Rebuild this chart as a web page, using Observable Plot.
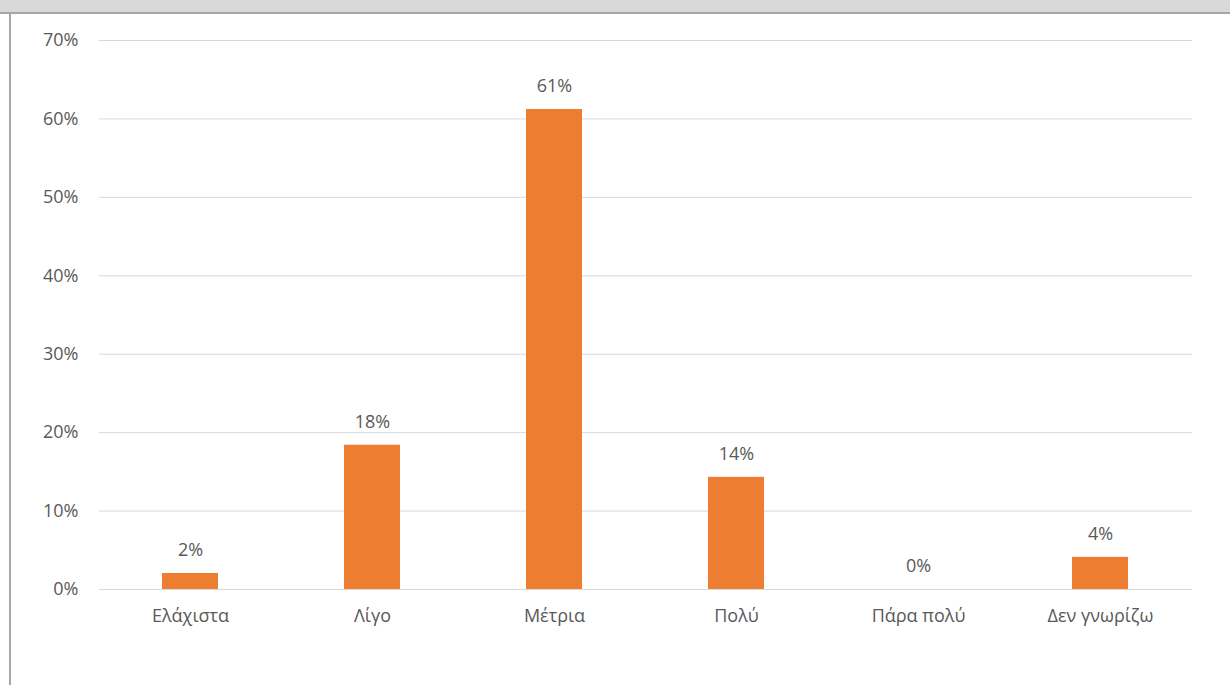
<!DOCTYPE html>
<html>
<head>
<meta charset="utf-8">
<script src="https://cdn.jsdelivr.net/npm/d3@7"></script>
<script src="https://cdn.jsdelivr.net/npm/@observablehq/plot@0.6"></script>
<style>
  html, body { margin: 0; padding: 0; background: #fff; width: 1230px; height: 685px; overflow: hidden; }
  #wrap { position: relative; width: 1230px; height: 685px; }
  #band { position: absolute; left: 0; top: 0; width: 1230px; height: 12px; background: #d9d9d9; border-bottom: 2px solid #a6a6a6; }
  #leftline { position: absolute; left: 9px; top: 12px; width: 2px; height: 673px; background: #a6a6a6; }
  #chart { position: absolute; left: 0; top: 0; }
  #chart svg { font-family: "Open Sans", "Noto Sans", sans-serif; }
</style>
</head>
<body>
<div id="wrap">
  <div id="chart"></div>
  <div id="band"></div>
  <div id="leftline"></div>
</div>
<script>
const categories = ["Ελάχιστα", "Λίγο", "Μέτρια", "Πολύ", "Πάρα πολύ", "Δεν γνωρίζω"];
const values = [0.0204, 0.184, 0.612, 0.143, 0, 0.041];
const yTicks = [0, 0.1, 0.2, 0.3, 0.4, 0.5, 0.6, 0.7];

const data = categories.map((c, i) => ({category: c, value: values[i]}));
const textColor = "#595959";
const fs = 18;

const chart = Plot.plot({
  width: 1230,
  height: 685,
  marginLeft: 99,
  marginRight: 38,
  marginTop: 40,
  marginBottom: 96,
  style: {fontSize: fs + "px", color: textColor, background: "transparent"},
  x: {domain: categories, paddingInner: 0.69, paddingOuter: 0.345, label: null},
  y: {domain: [0, 0.7], label: null},
  marks: [
    Plot.ruleY(yTicks, {stroke: "#d9d9d9", strokeWidth: 1}),
    Plot.barY(data, {x: "category", y: "value", fill: "#ED7D31"}),
    Plot.text(data, {x: "category", y: "value", text: d => Math.round(d.value * 100) + "%", dy: -23, fill: textColor, fontSize: fs}),
    Plot.axisY({ticks: yTicks, tickSize: 0, tickPadding: 21, tickFormat: d => Math.round(d * 100) + "%", fill: textColor, fontSize: fs, label: null}),
    Plot.axisX({tickSize: 0, tickPadding: 20, fill: textColor, fontSize: fs, label: null})
  ]
});
document.getElementById("chart").appendChild(chart);
</script>
</body>
</html>
